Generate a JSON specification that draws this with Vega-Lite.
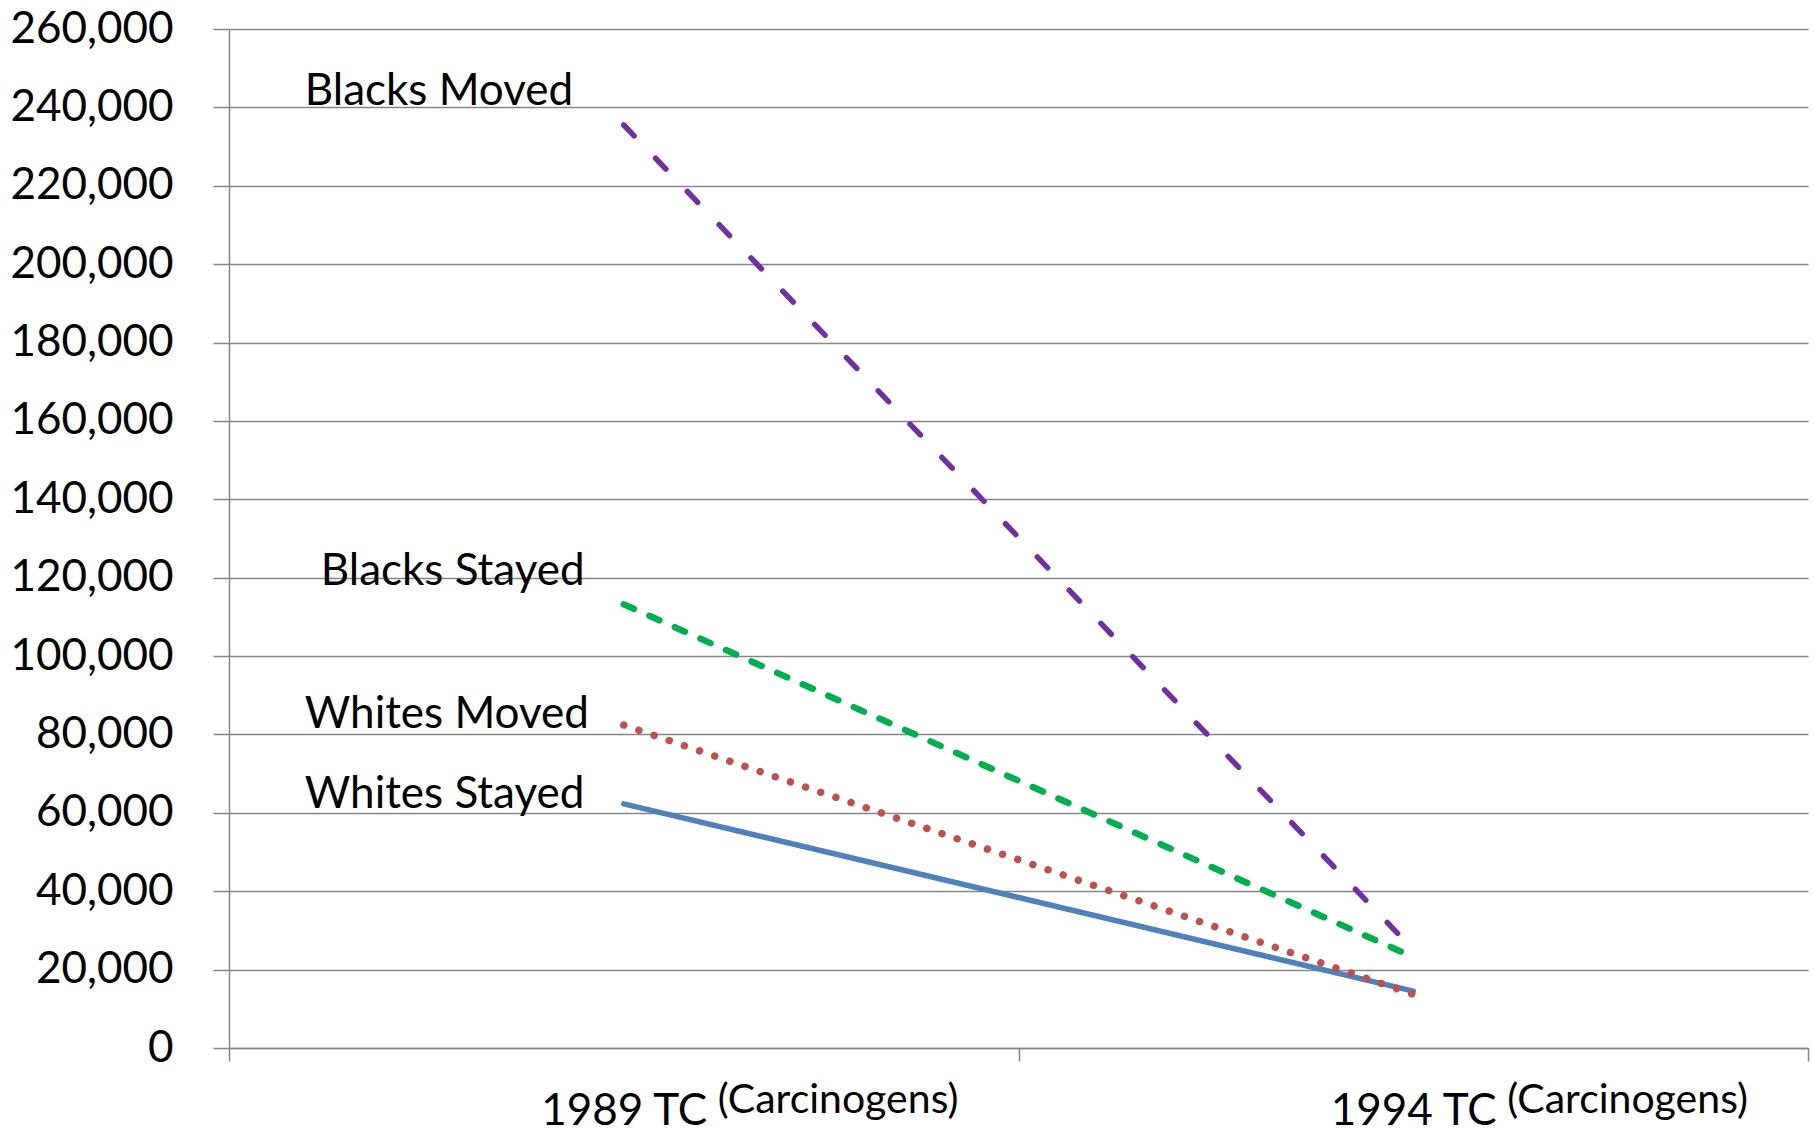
{
  "$schema": "https://vega.github.io/schema/vega-lite/v6.json",
  "width": 1579,
  "height": 1019,
  "autosize": {"type": "none"},
  "padding": {"left": 229, "top": 29, "right": 6, "bottom": 80},
  "background": "white",
  "config": {
    "view": {"stroke": null},
    "font": "Lato",
    "axis": {"labelFont": "Lato", "labelColor": "#000000", "title": null}
  },
  "datasets": {
    "lines": [
      {"period": "1989 TC", "series": "Whites Stayed", "value": 62300},
      {"period": "1994 TC", "series": "Whites Stayed", "value": 14500},
      {"period": "1989 TC", "series": "Whites Moved", "value": 82400},
      {"period": "1994 TC", "series": "Whites Moved", "value": 13700},
      {"period": "1989 TC", "series": "Blacks Stayed", "value": 113200},
      {"period": "1994 TC", "series": "Blacks Stayed", "value": 23200},
      {"period": "1989 TC", "series": "Blacks Moved", "value": 235500},
      {"period": "1994 TC", "series": "Blacks Moved", "value": 25100}
    ],
    "labels": [
      {"period": "1989 TC", "label": "Blacks Moved", "anchor": 240700},
      {"period": "1989 TC", "label": "Blacks Stayed", "anchor": 118200},
      {"period": "1989 TC", "label": "Whites Moved", "anchor": 81700},
      {"period": "1989 TC", "label": "Whites Stayed", "anchor": 61250}
    ]
  },
  "resolve": {"axis": {"x": "independent"}},
  "layer": [
    {
      "data": {"name": "lines"},
      "transform": [{"filter": "datum.series === 'Whites Stayed'"}],
      "mark": {"type": "line", "color": "#4F81BD", "strokeWidth": 5.5, "strokeCap": "round"},
      "encoding": {
        "x": {
          "field": "period", "type": "ordinal",
          "scale": {"type": "band", "paddingInner": 0, "paddingOuter": 0},
          "axis": {
            "orient": "bottom", "labelAngle": 0, "labelFontSize": 44, "labelBaseline": "alphabetic",
            "labelPadding": 63, "labelLimit": 0, "tickBand": "extent", "tickSize": 13, "tickColor": "#868686", "tickWidth": 1.5,
            "domainColor": "#868686", "domainWidth": 1.5, "grid": false
          }
        },
        "y": {
          "field": "value", "type": "quantitative",
          "scale": {"domain": [0, 260000], "nice": false},
          "axis": {
            "values": [0, 20000, 40000, 60000, 80000, 100000, 120000, 140000, 160000, 180000, 200000, 220000, 240000, 260000],
            "format": ",.0f", "labelFontSize": 44, "labelPadding": 40, "tickSize": 16, "tickColor": "#868686", "tickWidth": 1.5,
            "domainColor": "#868686", "domainWidth": 1.5, "grid": true, "gridColor": "#868686", "gridWidth": 1.5
          }
        }
      }
    },
    {
      "data": {"name": "lines"},
      "transform": [{"filter": "datum.series === 'Whites Moved'"}],
      "mark": {"type": "line", "color": "#C0504D", "strokeWidth": 7.5, "strokeCap": "round", "strokeDash": [0.01, 16]},
      "encoding": {
        "x": {"field": "period", "type": "ordinal", "axis": null},
        "y": {"field": "value", "type": "quantitative"}
      }
    },
    {
      "data": {"name": "lines"},
      "transform": [{"filter": "datum.series === 'Blacks Stayed'"}],
      "mark": {"type": "line", "color": "#00B050", "strokeWidth": 6.5, "strokeCap": "round", "strokeDash": [11, 17]},
      "encoding": {
        "x": {"field": "period", "type": "ordinal", "axis": null},
        "y": {"field": "value", "type": "quantitative"}
      }
    },
    {
      "data": {"name": "lines"},
      "transform": [{"filter": "datum.series === 'Blacks Moved'"}],
      "mark": {"type": "line", "color": "#7030A0", "strokeWidth": 5.5, "strokeCap": "round", "strokeDash": [15, 31]},
      "encoding": {
        "x": {"field": "period", "type": "ordinal", "axis": null},
        "y": {"field": "value", "type": "quantitative"}
      }
    },
    {
      "data": {"name": "labels"},
      "transform": [{"filter": "datum.label !== 'Blacks Stayed'"}],
      "mark": {"type": "text", "align": "left", "baseline": "alphabetic", "dx": -319, "fontSize": 44, "font": "Lato", "color": "#000000"},
      "encoding": {
        "x": {
          "field": "period", "type": "ordinal",
          "axis": {
            "orient": "bottom", "labelExpr": "'(Carcinogens)'", "labelAngle": 0, "labelAlign": "left", "labelOffset": 94,
            "labelFontSize": 41, "labelBaseline": "alphabetic", "labelPadding": 64, "labelLimit": 0, "ticks": false, "tickSize": 0,
            "domain": false, "grid": false
          }
        },
        "y": {"field": "anchor", "type": "quantitative"},
        "text": {"field": "label"}
      }
    },
    {
      "data": {"name": "labels"},
      "transform": [{"filter": "datum.label === 'Blacks Stayed'"}],
      "mark": {"type": "text", "align": "left", "baseline": "alphabetic", "dx": -303, "fontSize": 44, "font": "Lato", "color": "#000000"},
      "encoding": {
        "x": {"field": "period", "type": "ordinal", "axis": null},
        "y": {"field": "anchor", "type": "quantitative"},
        "text": {"field": "label"}
      }
    }
  ]
}
